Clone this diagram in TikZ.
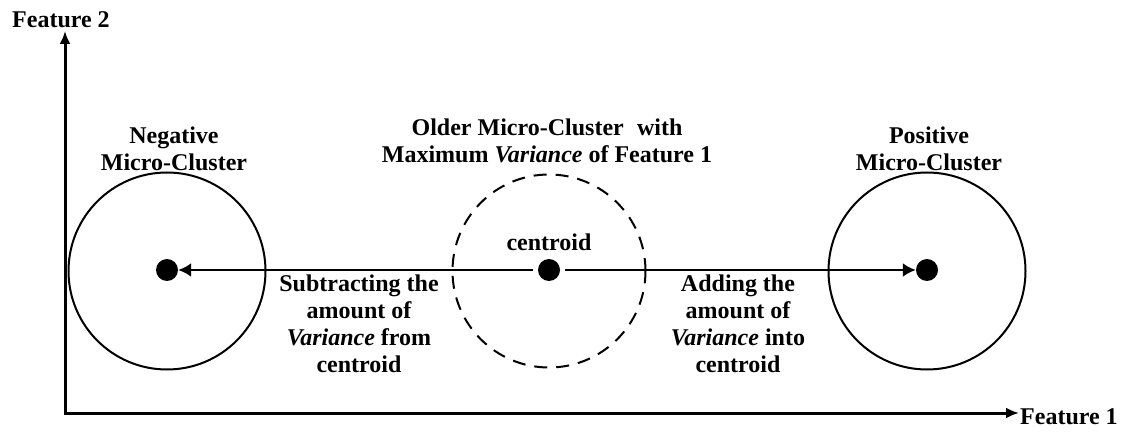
\documentclass[tikz,border=0pt]{standalone}
\usepackage{fontspec}
\setmainfont{Liberation Serif}
\usetikzlibrary{arrows.meta}
\begin{document}
\begin{tikzpicture}[x=1pt,y=-1pt,
  lbl/.style={font=\fontsize{24}{27}\selectfont\bfseries, align=center, inner sep=0pt},
  axis/.style={line width=3pt, {Latex[length=13pt,width=11pt]}-{Latex[length=13pt,width=11pt]}},
  cluster/.style={circle, draw, line width=2pt, minimum size=197pt, inner sep=0pt},
  oldcluster/.style={cluster, minimum size=193pt, dash pattern=on 13pt off 9pt},
  dot/.style={circle, fill, minimum size=22pt, inner sep=0pt},
  push/.style={line width=2.5pt, shorten <=5pt, -{Latex[length=13pt,width=14pt]}}]
\useasboundingbox (0,0) rectangle (1128,433);

% axes
\coordinate (origin) at (65,413);
\coordinate (ytop) at (65,31);
\coordinate (xend) at (1019,413);
\draw[axis] (ytop) -- (origin) -- (xend);
\node[lbl, anchor=base west] (feat2) at (12,28) {Feature 2};
\node[lbl, anchor=base west] (feat1) at (1020,424) {Feature 1};

% micro-clusters
\node[cluster] (negc) at (167,271) {};
\node[oldcluster] (oldc) at (549,271) {};
\node[cluster] (posc) at (927,271) {};

% centres
\node[dot] (negd) at (167,270) {};
\node[dot] (oldd) at (549,270) {};
\node[dot] (posd) at (927,270) {};

\draw[push] (oldd) -- (negd);
\draw[push] (oldd) -- (posd);

% labels
\node[lbl] (negl) at (174,149) {Negative\\Micro-Cluster};
\node[lbl] (oldl) at (547,141) {Older Micro-Cluster\hspace{0.3em} with\\Maximum \textit{Variance} of Feature 1};
\node[lbl] (posl) at (929,149) {Positive\\Micro-Cluster};
\node[lbl, anchor=base] (centl) at (549,250) {centroid};
\node[lbl] (subl) at (359,324) {Subtracting the\\amount of\\\textit{Variance} from\\centroid};
\node[lbl] (addl) at (738,324) {Adding the\\amount of\\\textit{Variance} into\\centroid};
\end{tikzpicture}
\end{document}
